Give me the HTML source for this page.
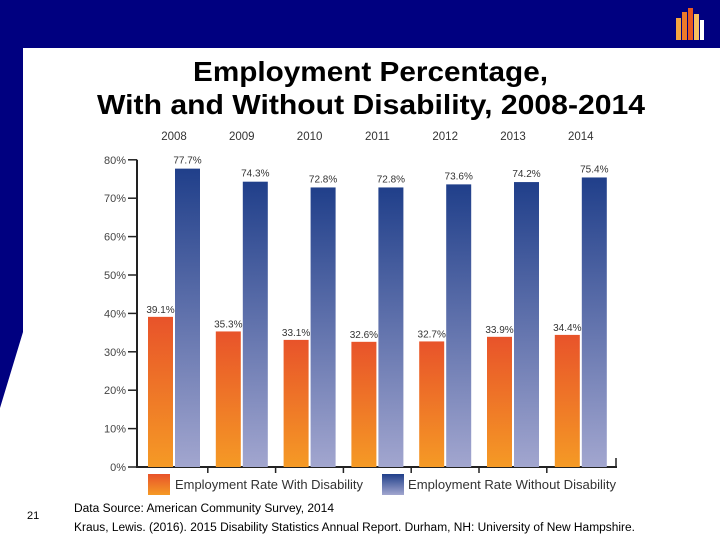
<!DOCTYPE html>
<html><head><meta charset="utf-8"><style>
body{margin:0;width:720px;height:540px;overflow:hidden;background:#fff;font-family:"Liberation Sans",sans-serif;}
svg{display:block}
</style></head><body>
<svg width="720" height="540">
<defs>
<linearGradient id="gO" x1="0" y1="0" x2="0" y2="1"><stop offset="0" stop-color="#e8532a"/><stop offset="1" stop-color="#f59a25"/></linearGradient>
<linearGradient id="gB" x1="0" y1="0" x2="0" y2="1"><stop offset="0" stop-color="#203f8a"/><stop offset="1" stop-color="#a2a6cf"/></linearGradient>
</defs>
<polygon points="0,0 720,0 720,48 23,48 23,332 0,408" fill="#000080"/>
<g>
<rect x="676" y="18" width="5" height="22" fill="#f4a640"/><rect x="682" y="12" width="5" height="28" fill="#ee7a2a"/><rect x="688" y="8" width="5" height="32" fill="#e85a20"/><rect x="694" y="14" width="5" height="26" fill="#f7c060"/><rect x="700" y="20" width="4" height="20" fill="#fff"/>
</g>
<text x="193" y="81" font-size="28" font-weight="bold" textLength="355" lengthAdjust="spacingAndGlyphs">Employment Percentage,</text>
<text x="97" y="114" font-size="28" font-weight="bold" textLength="548" lengthAdjust="spacingAndGlyphs">With and Without Disability, 2008-2014</text>
<g id="chart"></g>
<rect x="148" y="474" width="22" height="21" fill="url(#gO)"/>
<text x="175" y="489" font-size="12.5" fill="#333" textLength="188" lengthAdjust="spacingAndGlyphs">Employment Rate With Disability</text>
<rect x="382" y="474" width="22" height="21" fill="url(#gB)"/>
<text x="408" y="489" font-size="12.5" fill="#333" textLength="208" lengthAdjust="spacingAndGlyphs">Employment Rate Without Disability</text>
<text x="27" y="519" font-size="11">21</text>
<text x="74" y="512" font-size="11.5" textLength="260" lengthAdjust="spacingAndGlyphs">Data Source: American Community Survey, 2014</text>
<text x="74" y="531" font-size="11.5" textLength="561" lengthAdjust="spacingAndGlyphs">Kraus, Lewis. (2016). 2015 Disability Statistics Annual Report. Durham, NH: University of New Hampshire.</text>
</svg>
<script>
const years=["2008","2009","2010","2011","2012","2013","2014"];
const withDis=[39.1,35.3,33.1,32.6,32.7,33.9,34.4];
const withoutDis=[77.7,74.3,72.8,72.8,73.6,74.2,75.4];
const ticks=[0,10,20,30,40,50,60,70,80];
const NS="http://www.w3.org/2000/svg";
const g=document.getElementById('chart');
const y=v=>467-v*3.84;
const gx=i=>148+i*67.8;
function mk(t,a,txt){const e=document.createElementNS(NS,t);for(const k in a)e.setAttribute(k,a[k]);if(txt!==undefined)e.textContent=txt;g.appendChild(e);return e;}
let ax=mk('line',{x1:137,y1:y(80),x2:137,y2:467,stroke:'#222','stroke-width':2});


let bx=mk('line',{x1:136,y1:467,x2:617,y2:467,stroke:'#222','stroke-width':2});


ticks.forEach(t=>{
 let l=mk('line',{x1:128,y1:y(t),x2:137,y2:y(t),stroke:'#222','stroke-width':1.5});
 
 
 let tx=mk('text',{x:126,y:y(t)+4,'text-anchor':'end','font-size':11,fill:'#444'},t+'%');
 
 
});
years.forEach((yr,i)=>{
 const x=gx(i);
 let yl=mk('text',{x:x+26,y:140,'text-anchor':'middle','font-size':11.5,fill:'#333'},yr);
 
 
 let b1=mk('rect',{x:x,y:y(withDis[i]),width:25,height:467-y(withDis[i]),fill:'url(#gO)'});
 
 
 let b2=mk('rect',{x:x+27,y:y(withoutDis[i]),width:25,height:467-y(withoutDis[i]),fill:'url(#gB)'});
 
 
 let v1=mk('text',{x:x+12.5,y:y(withDis[i])-4,'text-anchor':'middle','font-size':10,fill:'#333'},withDis[i].toFixed(1)+'%');
 
 
 let v2=mk('text',{x:x+39.5,y:y(withoutDis[i])-5,'text-anchor':'middle','font-size':10,fill:'#333'},withoutDis[i].toFixed(1)+'%');
 
 
 if(i>0){let s=mk('line',{x1:x-8,y1:467,x2:x-8,y2:473,stroke:'#222','stroke-width':1.5});
 
 }
});
let e=mk('line',{x1:616,y1:458,x2:616,y2:467,stroke:'#222','stroke-width':1.5});


</script>
</body></html>
